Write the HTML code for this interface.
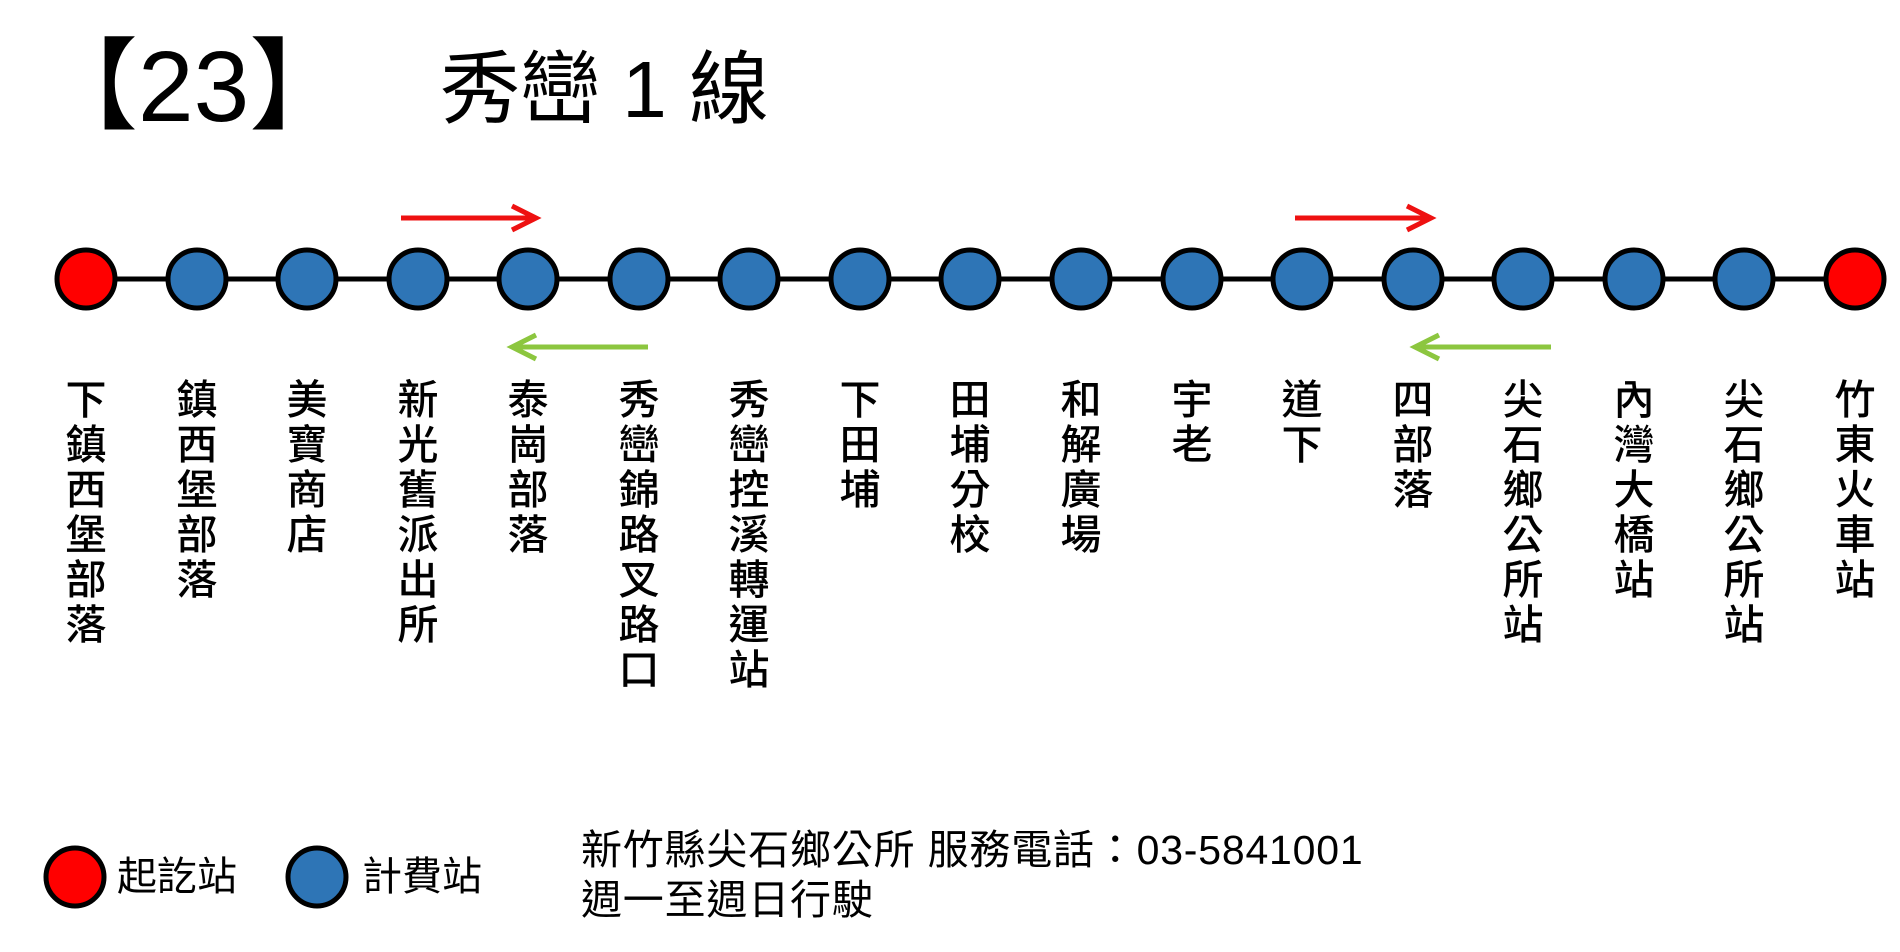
<!DOCTYPE html>
<html><head><meta charset="utf-8"><style>
body{margin:0;width:1900px;height:952px;background:#fff;overflow:hidden;position:relative;font-family:"Liberation Sans","Noto Sans CJK TC",sans-serif;}
.t{position:absolute;color:#000;white-space:nowrap;}
.v{position:absolute;top:378px;width:60px;font-size:41px;line-height:45px;text-align:center;font-weight:500;}
</style></head><body>
<div class="t" style="left:38px;top:32px;font-size:100px;line-height:110px;">【23】</div>
<div class="t" style="left:440px;top:40px;font-size:80px;line-height:100px;">秀巒 1 線</div>
<svg width="1900" height="952" style="position:absolute;left:0;top:0">
<line x1="86" y1="279" x2="1855" y2="279" stroke="#000" stroke-width="5"/>
<g stroke="#000" stroke-width="5" fill="#2E75B6">
<circle cx="86" cy="279" r="29" fill="#FF0000"/>
<circle cx="197" cy="279" r="29"/><circle cx="307" cy="279" r="29"/><circle cx="418" cy="279" r="29"/>
<circle cx="528" cy="279" r="29"/><circle cx="639" cy="279" r="29"/><circle cx="749" cy="279" r="29"/>
<circle cx="860" cy="279" r="29"/><circle cx="970" cy="279" r="29"/><circle cx="1081" cy="279" r="29"/>
<circle cx="1192" cy="279" r="29"/><circle cx="1302" cy="279" r="29"/><circle cx="1413" cy="279" r="29"/>
<circle cx="1523" cy="279" r="29"/><circle cx="1634" cy="279" r="29"/><circle cx="1744" cy="279" r="29"/>
<circle cx="1855" cy="279" r="29" fill="#FF0000"/>
<circle cx="75" cy="877" r="29" fill="#FF0000"/>
<circle cx="317" cy="877" r="29"/>
</g>
<g stroke="#EE1111" stroke-width="5" fill="none">
<line x1="401" y1="218" x2="536" y2="218"/><polyline points="512,206 536,218 512,230"/>
<line x1="1295" y1="218" x2="1431" y2="218"/><polyline points="1407,206 1431,218 1407,230"/>
</g>
<g stroke="#8CC63F" stroke-width="5" fill="none">
<line x1="512" y1="347" x2="648" y2="347"/><polyline points="536,335 512,347 536,359"/>
<line x1="1415" y1="347" x2="1551" y2="347"/><polyline points="1439,335 1415,347 1439,359"/>
</g>
</svg>
<div class="v" style="left:56px">下<br>鎮<br>西<br>堡<br>部<br>落</div>
<div class="v" style="left:167px">鎮<br>西<br>堡<br>部<br>落</div>
<div class="v" style="left:277px">美<br>寶<br>商<br>店</div>
<div class="v" style="left:388px">新<br>光<br>舊<br>派<br>出<br>所</div>
<div class="v" style="left:498px">泰<br>崗<br>部<br>落</div>
<div class="v" style="left:609px">秀<br>巒<br>錦<br>路<br>叉<br>路<br>口</div>
<div class="v" style="left:719px">秀<br>巒<br>控<br>溪<br>轉<br>運<br>站</div>
<div class="v" style="left:830px">下<br>田<br>埔</div>
<div class="v" style="left:940px">田<br>埔<br>分<br>校</div>
<div class="v" style="left:1051px">和<br>解<br>廣<br>場</div>
<div class="v" style="left:1162px">宇<br>老</div>
<div class="v" style="left:1272px">道<br>下</div>
<div class="v" style="left:1383px">四<br>部<br>落</div>
<div class="v" style="left:1493px">尖<br>石<br>鄉<br>公<br>所<br>站</div>
<div class="v" style="left:1604px">內<br>灣<br>大<br>橋<br>站</div>
<div class="v" style="left:1714px">尖<br>石<br>鄉<br>公<br>所<br>站</div>
<div class="v" style="left:1825px">竹<br>東<br>火<br>車<br>站</div>
<div class="t" style="left:117px;top:853px;font-size:40px;line-height:48px;">起訖站</div>
<div class="t" style="left:362px;top:853px;font-size:40px;line-height:48px;">計費站</div>
<div class="t" style="left:581px;top:826px;font-size:41px;line-height:48px;letter-spacing:0.8px;">新竹縣尖石鄉公所 服務電話：03-5841001</div>
<div class="t" style="left:581px;top:876px;font-size:41px;line-height:48px;letter-spacing:0.8px;">週一至週日行駛</div>
</body></html>
